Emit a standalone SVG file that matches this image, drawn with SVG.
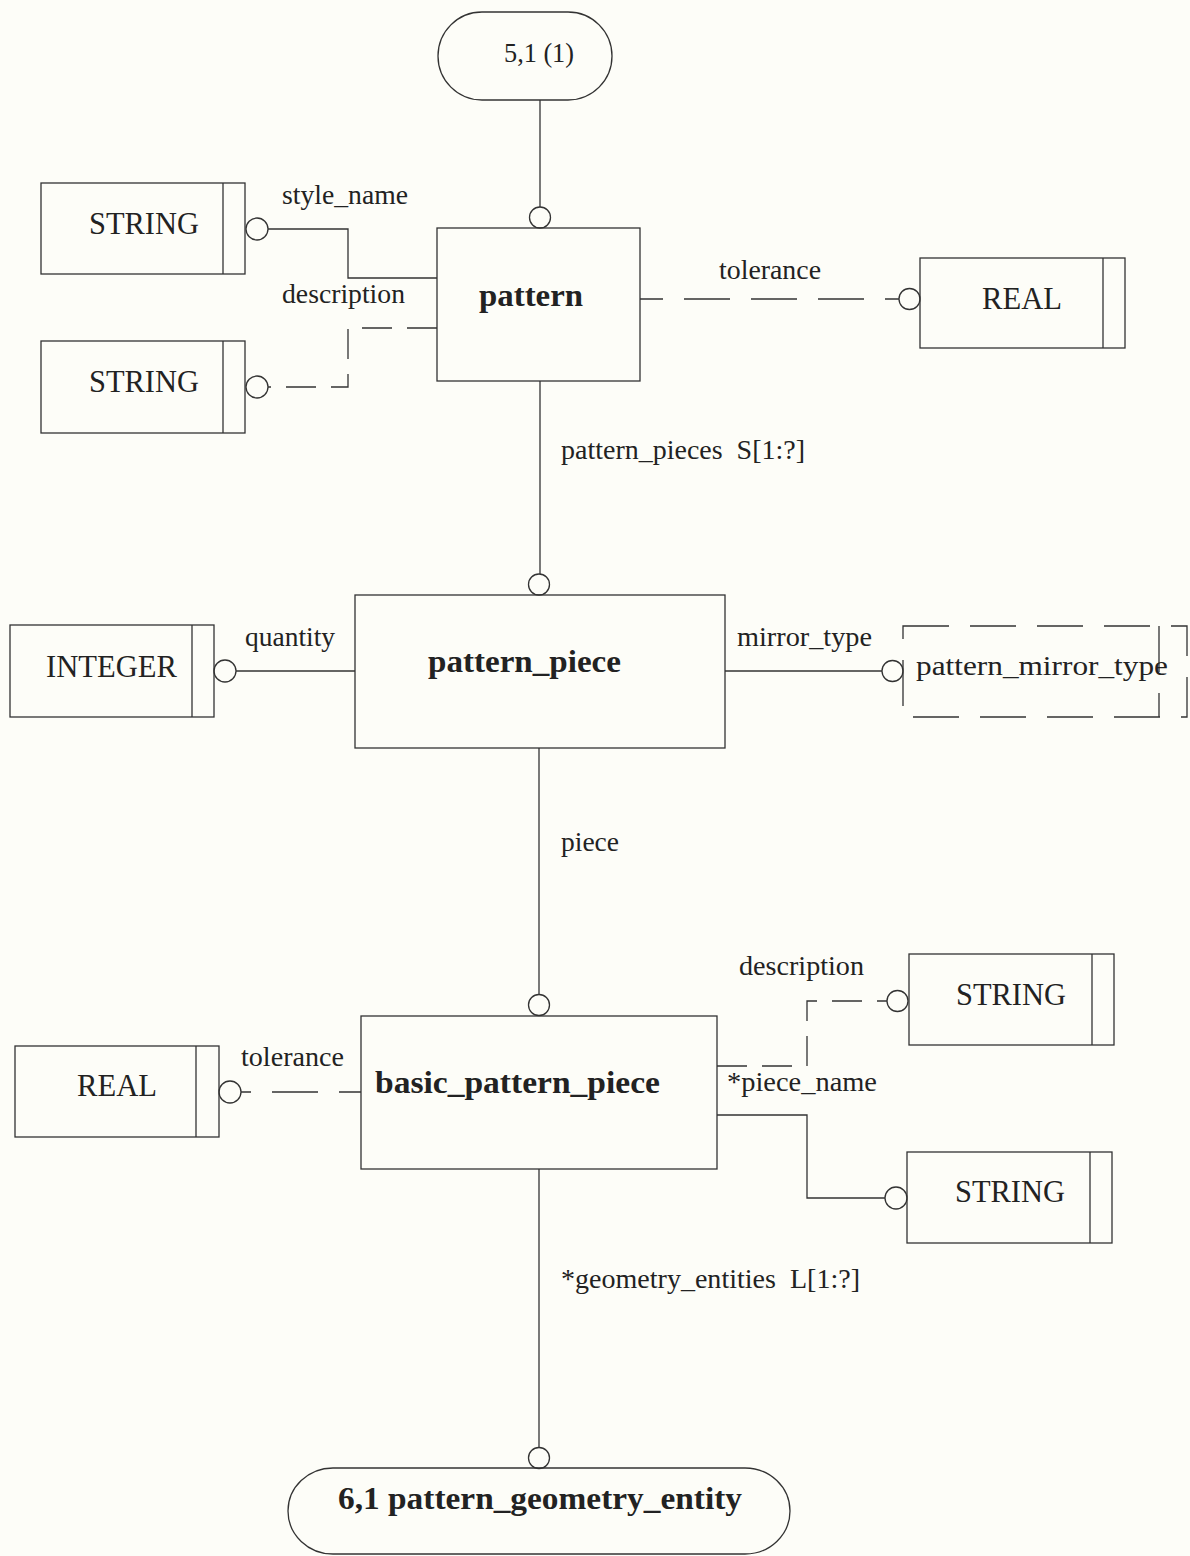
<svg xmlns="http://www.w3.org/2000/svg" width="1190" height="1556" viewBox="0 0 1190 1556">
  <style>
    .bg { fill: #fdfdf8; }
    .box { fill: none; stroke: #333; stroke-width: 1.3; }
    .dbox { fill: none; stroke: #333; stroke-width: 1.3; stroke-dasharray: 46 21; }
    .ln { fill: none; stroke: #333; stroke-width: 1.3; }
    .dl { fill: none; stroke: #333; stroke-width: 1.3; stroke-dasharray: 30 15; }
    .dl2 { fill: none; stroke: #333; stroke-width: 1.3; stroke-dasharray: 46 21; }
    .ring { fill: #fdfdf8; stroke: #333; stroke-width: 1.3; }
    .type { font-family: "Liberation Serif", "Times New Roman", serif; font-size: 31px; fill: #222; }
    .lbl { font-family: "Liberation Serif", "Times New Roman", serif; font-size: 28px; fill: #222; }
    .ent { font-family: "Liberation Serif", "Times New Roman", serif; font-size: 31px; font-weight: bold; fill: #222; }
  </style>
  <rect class="bg" x="0" y="0" width="1190" height="1556"/>

  <!-- connectors -->
  <g id="connectors">
    <!-- page ref 5,1 to pattern -->
    <line class="ln" x1="540" y1="100" x2="540" y2="207"/>
    <circle class="ring" cx="540" cy="217.5" r="10.5"/>
    <!-- style_name -->
    <path class="ln" d="M268 229 H348 V278 H437"/>
    <circle class="ring" cx="257" cy="229" r="11"/>
    <text class="lbl" x="282" y="204" textLength="126" lengthAdjust="spacingAndGlyphs">style_name</text>
    <!-- description (optional) -->
    <path class="dl" d="M437 328 H348 V387 H268"/>
    <circle class="ring" cx="257" cy="387" r="11"/>
    <text class="lbl" x="282" y="303" textLength="123" lengthAdjust="spacingAndGlyphs">description</text>
    <!-- tolerance (optional) -->
    <line class="dl2" x1="640" y1="299" x2="899" y2="299" stroke-dashoffset="23"/>
    <circle class="ring" cx="909.5" cy="299" r="10.5"/>
    <text class="lbl" x="719" y="279" textLength="102" lengthAdjust="spacingAndGlyphs">tolerance</text>
    <!-- pattern_pieces -->
    <line class="ln" x1="540" y1="381" x2="540" y2="574"/>
    <circle class="ring" cx="539" cy="584.5" r="10.5"/>
    <text class="lbl" x="561" y="459" textLength="244" lengthAdjust="spacingAndGlyphs" xml:space="preserve">pattern_pieces  S[1:?]</text>
    <!-- quantity -->
    <line class="ln" x1="236" y1="671" x2="355" y2="671"/>
    <circle class="ring" cx="225" cy="671" r="11"/>
    <text class="lbl" x="245" y="646" textLength="90" lengthAdjust="spacingAndGlyphs">quantity</text>
    <!-- mirror_type -->
    <line class="ln" x1="725" y1="671" x2="882" y2="671"/>
    <circle class="ring" cx="892.5" cy="671" r="10.5"/>
    <text class="lbl" x="737" y="646" textLength="135" lengthAdjust="spacingAndGlyphs">mirror_type</text>
    <!-- piece -->
    <line class="ln" x1="539" y1="748" x2="539" y2="994"/>
    <circle class="ring" cx="539" cy="1005" r="10.5"/>
    <text class="lbl" x="561" y="851" textLength="58" lengthAdjust="spacingAndGlyphs">piece</text>
    <!-- tolerance (optional) on basic_pattern_piece -->
    <line class="dl2" x1="361" y1="1092" x2="241" y2="1092" stroke-dashoffset="24"/>
    <circle class="ring" cx="230" cy="1092" r="11"/>
    <text class="lbl" x="241" y="1066" textLength="103" lengthAdjust="spacingAndGlyphs">tolerance</text>
    <!-- description (optional) on basic_pattern_piece -->
    <path class="dl" d="M717 1066 H807 V1001 H887"/>
    <circle class="ring" cx="897.5" cy="1001" r="10.5"/>
    <text class="lbl" x="739" y="975" textLength="125" lengthAdjust="spacingAndGlyphs">description</text>
    <!-- piece_name -->
    <path class="ln" d="M717 1115 H807 V1198 H885"/>
    <circle class="ring" cx="896" cy="1198" r="11"/>
    <text class="lbl" x="727" y="1091" textLength="150" lengthAdjust="spacingAndGlyphs">*piece_name</text>
    <!-- geometry_entities -->
    <line class="ln" x1="539" y1="1169" x2="539" y2="1447"/>
    <circle class="ring" cx="539" cy="1458" r="10.5"/>
    <text class="lbl" x="561" y="1288" textLength="299" lengthAdjust="spacingAndGlyphs" xml:space="preserve">*geometry_entities  L[1:?]</text>
  </g>

  <!-- page reference: 5,1 (1) -->
  <g id="ref-5-1">
    <rect class="box" x="438" y="12" width="174" height="88" rx="44" ry="44"/>
    <text class="lbl" x="504" y="62" font-size="25" textLength="70" lengthAdjust="spacingAndGlyphs">5,1 (1)</text>
  </g>

  <!-- entity: pattern -->
  <g id="pattern">
    <rect class="box" x="437" y="228" width="203" height="153"/>
    <text class="ent" x="479" y="306" textLength="104" lengthAdjust="spacingAndGlyphs">pattern</text>
  </g>

  <!-- simple types around pattern -->
  <g id="string-style-name">
    <rect class="box" x="41" y="183" width="204" height="91"/>
    <line class="ln" x1="223" y1="183" x2="223" y2="274"/>
    <text class="type" x="89" y="234" textLength="110" lengthAdjust="spacingAndGlyphs">STRING</text>
  </g>
  <g id="string-description">
    <rect class="box" x="41" y="341" width="204" height="92"/>
    <line class="ln" x1="223" y1="341" x2="223" y2="433"/>
    <text class="type" x="89" y="392" textLength="110" lengthAdjust="spacingAndGlyphs">STRING</text>
  </g>
  <g id="real-tolerance">
    <rect class="box" x="920" y="258" width="205" height="90"/>
    <line class="ln" x1="1103" y1="258" x2="1103" y2="348"/>
    <text class="type" x="982" y="309" textLength="80" lengthAdjust="spacingAndGlyphs">REAL</text>
  </g>

  <!-- entity: pattern_piece -->
  <g id="pattern_piece">
    <rect class="box" x="355" y="595" width="370" height="153"/>
    <text class="ent" x="428" y="672" textLength="193" lengthAdjust="spacingAndGlyphs">pattern_piece</text>
  </g>
  <g id="integer-quantity">
    <rect class="box" x="10" y="625" width="204" height="92"/>
    <line class="ln" x1="192" y1="625" x2="192" y2="717"/>
    <text class="type" x="46" y="677" textLength="131" lengthAdjust="spacingAndGlyphs">INTEGER</text>
  </g>
  <!-- defined type from another page (dashed) -->
  <g id="pattern_mirror_type">
    <rect class="dbox" x="903" y="626" width="284" height="91"/>
    <line class="dbox" x1="1159" y1="626" x2="1159" y2="717" stroke-dasharray="10 12"/>
    <text class="lbl" x="916" y="675" textLength="252" lengthAdjust="spacingAndGlyphs">pattern_mirror_type</text>
  </g>

  <!-- entity: basic_pattern_piece -->
  <g id="basic_pattern_piece">
    <rect class="box" x="361" y="1016" width="356" height="153"/>
    <text class="ent" x="375" y="1093" textLength="285" lengthAdjust="spacingAndGlyphs">basic_pattern_piece</text>
  </g>
  <g id="real-basic-tolerance">
    <rect class="box" x="15" y="1046" width="204" height="91"/>
    <line class="ln" x1="196" y1="1046" x2="196" y2="1137"/>
    <text class="type" x="77" y="1096" textLength="80" lengthAdjust="spacingAndGlyphs">REAL</text>
  </g>
  <g id="string-basic-description">
    <rect class="box" x="909" y="954" width="205" height="91"/>
    <line class="ln" x1="1092" y1="954" x2="1092" y2="1045"/>
    <text class="type" x="956" y="1005" textLength="110" lengthAdjust="spacingAndGlyphs">STRING</text>
  </g>
  <g id="string-piece-name">
    <rect class="box" x="907" y="1152" width="205" height="91"/>
    <line class="ln" x1="1090" y1="1152" x2="1090" y2="1243"/>
    <text class="type" x="955" y="1202" textLength="110" lengthAdjust="spacingAndGlyphs">STRING</text>
  </g>

  <!-- page reference: 6,1 pattern_geometry_entity -->
  <g id="ref-6-1">
    <rect class="box" x="288" y="1468" width="502" height="86" rx="45" ry="43"/>
    <text class="ent" x="338" y="1509" textLength="404" lengthAdjust="spacingAndGlyphs">6,1 pattern_geometry_entity</text>
  </g>
</svg>
